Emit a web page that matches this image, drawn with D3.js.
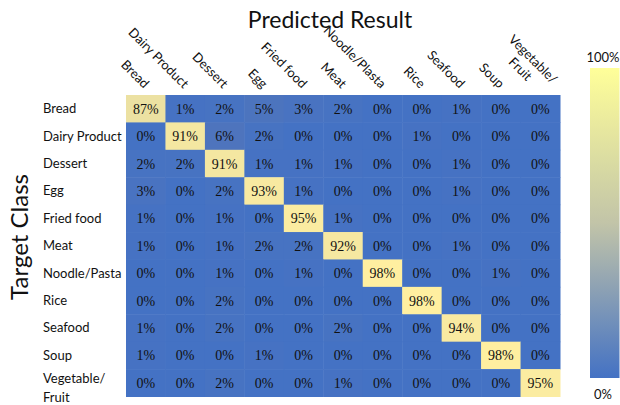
<!DOCTYPE html>
<html><head><meta charset="utf-8">
<script src="https://cdn.jsdelivr.net/npm/d3@7"></script>
<style>body{margin:0;background:#fff;}svg{display:block;}</style>
</head><body><svg id="c" width="620" height="405"></svg>
<script>
const rowLabels = ["Bread","Dairy Product","Dessert","Egg","Fried food","Meat","Noodle/Pasta","Rice","Seafood","Soup","Vegetable/\nFruit"];
const colLabels = ["Bread","Dairy Product","Dessert","Egg","Fried food","Meat","Noodle/Plasta","Rice","Seafood","Soup","Vegetable/\nFruit"];
const values = [
 [87,1,2,5,3,2,0,0,1,0,0],
 [0,91,6,2,0,0,0,1,0,0,0],
 [2,2,91,1,1,1,0,0,1,0,0],
 [3,0,2,93,1,0,0,0,1,0,0],
 [1,0,1,0,95,1,0,0,0,0,0],
 [1,0,1,2,2,92,0,0,1,0,0],
 [0,0,1,0,1,0,98,0,0,1,0],
 [0,0,2,0,0,0,0,98,0,0,0],
 [1,0,2,0,0,2,0,0,94,0,0],
 [1,0,0,1,0,0,0,0,0,98,0],
 [0,0,2,0,0,1,0,0,0,0,95]
];
const legendTicks = ["100%","0%"];

const svg = d3.select("#c");
const x = d3.scaleBand().domain(d3.range(colLabels.length)).range([126,560]).padding(0);
const y = d3.scaleBand().domain(d3.range(rowLabels.length)).range([95,396.5]).padding(0);
const color = d3.scaleLinear().domain([0,6,87,92,98]).range(["#4472C4","#4E74BD","#ECE1A2","#F6E8A1","#FFEFA0"]).clamp(true);

const cells = [];
values.forEach((r,i)=>r.forEach((v,j)=>cells.push({i,j,v})));
svg.append("g").selectAll("rect").data(cells).join("rect")
  .attr("x",d=>x(d.j)).attr("y",d=>y(d.i))
  .attr("width",x.bandwidth()+0.5).attr("height",y.bandwidth()+0.5)
  .attr("fill",d=>color(d.v));
svg.append("g").selectAll("text").data(cells).join("text")
  .attr("x",d=>x(d.j)+x.bandwidth()/2).attr("y",d=>y(d.i)+y.bandwidth()/2+5)
  .attr("text-anchor","middle")
  .style("font-family","'Liberation Serif','Times New Roman',serif").style("font-size","14px").attr("fill","#111")
  .text(d=>d.v+"%");

// row labels
const rg = svg.append("g");
rowLabels.forEach((lab,i)=>{
  const lines = lab.split("\n");
  const t = rg.append("text").attr("x",43)
    .style("font-family","Lato,'Open Sans',sans-serif").style("font-size","13px").attr("fill","#111");
  const cy = y(i)+y.bandwidth()/2 + (lines.length>1?5:0);
  lines.forEach((ln,k)=>{
    t.append("tspan").attr("x",43).attr("y",cy+4.5+(k-(lines.length-1)/2)*19).text(ln);
  });
});
// column labels
const cg = svg.append("g");
colLabels.forEach((lab,j)=>{
  const lines = lab.split("\n");
  const cx = x(j)+x.bandwidth()/2;
  const t = cg.append("text")
    .attr("transform",`translate(${cx-2},${89}) rotate(45)`)
    .attr("text-anchor", lines.length>1 ? "start" : "end")
    .style("font-family","Lato,'Open Sans',sans-serif").style("font-size","13px").attr("fill","#111");
  if(lines.length>1){
    t.append("tspan").attr("x",-56).attr("y",-13).text(lines[0]);
    t.append("tspan").attr("x",-40).attr("y",3).text(lines[1]);
  } else t.text(lab);
});

// titles
svg.append("text").attr("x",330).attr("y",28).attr("text-anchor","middle")
  .style("font-family","Lato,'Open Sans',sans-serif").style("font-size","23px").attr("fill","#111").text("Predicted Result");
svg.append("text").attr("transform","translate(28,237) rotate(-90)").attr("text-anchor","middle")
  .style("font-family","Lato,'Open Sans',sans-serif").style("font-size","24px").attr("fill","#111").text("Target Class");

// colorbar
const defs = svg.append("defs");
const grad = defs.append("linearGradient").attr("id","cb").attr("x1",0).attr("y1",1).attr("x2",0).attr("y2",0);
const cbScale = d3.scaleLinear().domain([0,0.5,1]).range(["#4472C4","#C2C4A8","#FFFF99"]);
d3.range(0,1.001,0.1).forEach(t=>grad.append("stop").attr("offset",t).attr("stop-color",cbScale(t)));
const cbY = d3.scaleLinear().domain([0,100]).range([378,68]);
svg.append("rect").attr("x",590).attr("y",cbY(100)).attr("width",29.5).attr("height",cbY(0)-cbY(100)).attr("fill","url(#cb)");
svg.append("text").attr("x",603).attr("y",cbY(100)-6).attr("text-anchor","middle")
  .style("font-family","Lato,'Open Sans',sans-serif").style("font-size","13px").attr("fill","#111").text(legendTicks[0]);
svg.append("text").attr("x",603).attr("y",cbY(0)+21).attr("text-anchor","middle")
  .style("font-family","Lato,'Open Sans',sans-serif").style("font-size","13px").attr("fill","#111").text(legendTicks[1]);
</script></body></html>
